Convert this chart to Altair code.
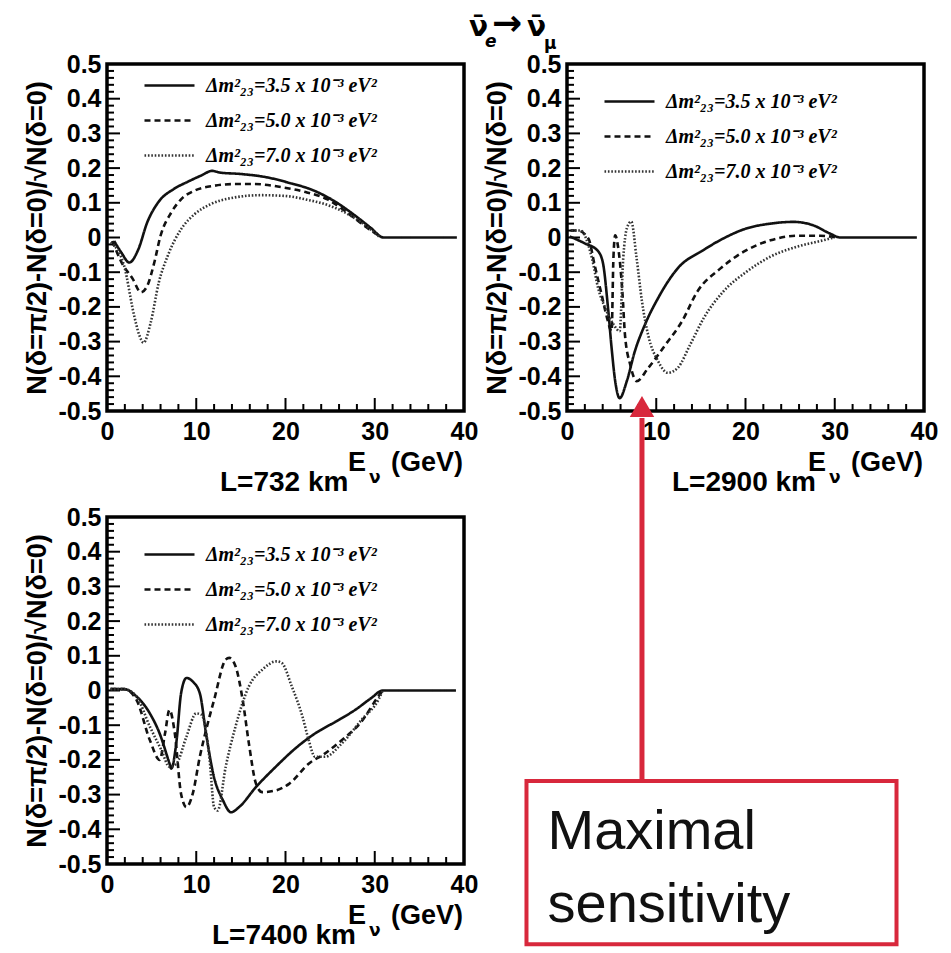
import altair as alt
import pandas as pd

# ---------------- data ----------------
LABELS = ["Δm²₂₃=3.5 x 10⁻³ eV²", "Δm²₂₃=5.0 x 10⁻³ eV²", "Δm²₂₃=7.0 x 10⁻³ eV²"]

# L = 732 km
P1_S_E = [0.8, 1.6, 2.5, 3.5, 4.5, 5.7, 7.5, 9.0, 10.5, 11.8, 12.7, 15.0, 18.0, 20.2, 23.2, 25.4, 27.6, 29.5, 31.0, 39.2]
P1_S_V = [-0.01, -0.043, -0.072, -0.035, 0.043, 0.10, 0.14, 0.16, 0.178, 0.192, 0.187, 0.183, 0.173, 0.159, 0.135, 0.106, 0.067, 0.029, 0.0, 0.0]
P1_D_E = [0.6, 1.6, 2.9, 3.8, 4.5, 5.3, 6.0, 7.2, 8.3, 9.8, 12.0, 14.2, 16.5, 19.8, 22.4, 24.7, 26.9, 29.1, 30.8]
P1_D_V = [-0.01, -0.07, -0.12, -0.158, -0.14, -0.072, 0.005, 0.072, 0.11, 0.135, 0.149, 0.154, 0.154, 0.144, 0.13, 0.11, 0.072, 0.029, 0.0]
P1_T_E = [0.4, 1.9, 3.05, 3.6, 4.1, 4.9, 5.8, 6.8, 8.3, 9.8, 11.6, 14.2, 17.2, 19.8, 22.4, 25.0, 27.3, 29.5, 30.6]
P1_T_V = [-0.014, -0.08, -0.226, -0.28, -0.303, -0.245, -0.13, -0.053, 0.024, 0.067, 0.096, 0.115, 0.122, 0.12, 0.109, 0.091, 0.063, 0.024, 0.0]

# L = 2900 km
P2_S_E = [0.3, 2.0, 3.4, 4.0, 4.6, 5.0, 5.4, 5.9, 6.7, 7.6, 8.7, 10.2, 12.4, 15.3, 17.5, 20.1, 22.8, 25.4, 27.6, 29.5, 30.6, 39.2]
P2_S_V = [0.003, -0.017, -0.037, -0.07, -0.204, -0.319, -0.414, -0.463, -0.414, -0.328, -0.253, -0.175, -0.089, -0.036, -0.003, 0.026, 0.040, 0.045, 0.035, 0.011, 0.0, 0.0]
P2_D_E = [0.4, 1.2, 2.4, 3.1, 3.9, 4.5, 5.0, 5.2, 5.4, 5.7, 6.2, 6.5, 7.1, 7.8, 9.1, 11.0, 12.9, 14.6, 17.2, 19.8, 22.8, 25.7, 28.4, 30.2]
P2_D_V = [0.02, 0.02, -0.003, -0.08, -0.167, -0.233, -0.27, -0.06, 0.006, -0.023, -0.155, -0.282, -0.368, -0.414, -0.376, -0.31, -0.241, -0.156, -0.089, -0.041, -0.008, 0.005, 0.005, 0.0]
P2_T_E = [0.5, 1.5, 2.8, 3.5, 4.3, 5.2, 5.9, 6.3, 6.7, 7.2, 7.8, 8.4, 9.1, 10.2, 11.3, 12.4, 13.8, 15.3, 17.5, 20.1, 22.8, 25.7, 28.4, 29.9]
P2_T_V = [0.02, 0.02, -0.06, -0.147, -0.204, -0.25, -0.27, -0.06, 0.026, 0.046, -0.06, -0.184, -0.282, -0.356, -0.39, -0.376, -0.309, -0.233, -0.156, -0.099, -0.055, -0.027, -0.01, 0.0]

# L = 7400 km
P3_S_E = [0.4, 1.9, 3.3, 4.8, 5.9, 7.0, 7.2, 7.8, 8.3, 8.9, 9.6, 10.4, 11.1, 11.9, 13.0, 13.9, 14.8, 16.7, 18.9, 21.1, 23.3, 25.6, 27.8, 29.6, 30.9, 39.1]
P3_S_V = [0.004, 0.004, -0.017, -0.066, -0.124, -0.21, -0.225, -0.143, -0.008, 0.036, 0.026, -0.008, -0.124, -0.24, -0.317, -0.351, -0.336, -0.278, -0.22, -0.167, -0.124, -0.09, -0.056, -0.022, 0.0, 0.0]
P3_D_E = [0.4, 1.9, 3.3, 4.8, 5.9, 6.5, 7.0, 7.6, 8.3, 8.9, 9.6, 10.4, 11.1, 12.0, 13.3, 13.7, 14.4, 15.2, 15.9, 16.7, 17.4, 18.9, 20.4, 22.6, 24.4, 26.3, 28.5, 30.4, 30.9]
P3_D_V = [0.004, 0.004, -0.027, -0.143, -0.2, -0.124, -0.056, -0.124, -0.298, -0.336, -0.298, -0.191, -0.114, -0.027, 0.089, 0.094, 0.07, -0.027, -0.153, -0.269, -0.293, -0.288, -0.269, -0.211, -0.182, -0.143, -0.09, -0.017, 0.0]
P3_T_E = [0.4, 1.9, 3.3, 4.8, 6.1, 7.0, 7.8, 8.9, 10.0, 10.6, 11.5, 12.0, 12.4, 13.3, 14.4, 15.9, 17.4, 19.0, 19.6, 20.7, 21.9, 22.6, 23.3, 24.4, 26.3, 28.5, 30.4, 30.9]
P3_T_V = [0.004, 0.004, -0.017, -0.104, -0.172, -0.22, -0.21, -0.133, -0.066, -0.07, -0.2, -0.336, -0.346, -0.22, -0.104, 0.012, 0.06, 0.084, 0.079, 0.012, -0.075, -0.143, -0.191, -0.191, -0.153, -0.085, -0.027, 0.0]

BASELINES = ["L=732 km", "L=2900 km", "L=7400 km"]
X_LABEL_VALUES = [0, 10, 20, 30, 40]
Y_LABEL_VALUES = [0.5, 0.4, 0.3, 0.2, 0.1, 0.0, -0.1, -0.2, -0.3, -0.4, -0.5]

# ---------------- style ----------------
SANS = "Liberation Sans"
SERIF = "Liberation Serif"
W, H = 357, 347
RED = "#d8283c"
DASHES = [[1, 0], [6, 4], [1.6, 1.8]]
COLORS = ["#111111", "#111111", "#333333"]
YTITLE = "N(δ=π/2)-N(δ=0)/√N(δ=0)"
X_MAJOR = [0, 10, 20, 30, 40]
X_MINOR = [v for v in range(2, 40, 2) if v % 10 != 0]
Y_MAJOR = Y_LABEL_VALUES
Y_MINOR = [round(-0.5 + 0.02 * i, 2) for i in range(51) if i % 5 != 0]

xs = alt.Scale(domain=[0, 40], nice=False, zero=False)
ys = alt.Scale(domain=[-0.5, 0.5], nice=False, zero=False)


def make_df(pairs):
    rows = []
    for lab, (es, vs) in zip(LABELS, pairs):
        for e, v in zip(es, vs):
            rows.append({"E": e, "V": v, "series": lab})
    return pd.DataFrame(rows)


def txt(text, e, v, dx, dy, size, font=SANS, weight="bold", style="normal",
        align="left", color="black", baseline="alphabetic", line_height=None):
    props = dict(dx=dx, dy=dy, fontSize=size, font=font, fontWeight=weight,
                 fontStyle=style, align=align, color=color, baseline=baseline,
                 text=text)
    if line_height is not None:
        props["lineHeight"] = line_height
    return alt.Chart(pd.DataFrame({"E": [e], "V": [v]})).mark_text(**props).encode(
        x=alt.X("E:Q", scale=xs, axis=None),
        y=alt.Y("V:Q", scale=ys, axis=None),
    )


def xticks(vals, size):
    return alt.Chart(pd.DataFrame({"t": vals})).mark_rule(color="black", strokeWidth=2).encode(
        x=alt.X("t:Q", scale=xs, axis=None), y=alt.value(H), y2=alt.value(H - size))


def yticks(vals, size):
    return alt.Chart(pd.DataFrame({"t": vals})).mark_rule(color="black", strokeWidth=2).encode(
        y=alt.Y("t:Q", scale=ys, axis=None), x=alt.value(0), x2=alt.value(size))


def panel(df, lx, ly, ltext, ldx, extra=None):
    legend = alt.Legend(
        orient="none", legendX=lx, legendY=ly, title=None,
        symbolType="M-2.5,0L2.5,0", symbolSize=400, symbolStrokeWidth=2.6,
        labelFont=SERIF, labelFontSize=20, labelFontStyle="italic",
        labelFontWeight="bold", labelColor="black", labelOffset=25,
        labelLimit=0, rowPadding=13, padding=0,
    )
    lines = alt.Chart(df).mark_line(strokeWidth=2.6, clip=False, interpolate="monotone").encode(
        x=alt.X("E:Q", scale=xs, axis=alt.Axis(
            values=X_LABEL_VALUES, ticks=False, domain=False, grid=False,
            labelFont=SANS, labelFontSize=25, labelFontWeight="bold",
            labelColor="black", labelPadding=8, labelFlush=False, title=None)),
        y=alt.Y("V:Q", scale=ys, axis=alt.Axis(
            values=Y_LABEL_VALUES, ticks=False, domain=False, grid=False,
            labelFont=SANS, labelFontSize=25, labelFontWeight="bold",
            labelColor="black", labelPadding=6,
            labelExpr="datum.value == 0 ? '0' : (datum.value < 0 ? '-' + format(-datum.value, '.1f') : format(datum.value, '.1f'))",
            title=YTITLE, titleFont=SANS, titleFontSize=27, titleFontWeight="bold",
            titleColor="black", titlePadding=6)),
        strokeDash=alt.StrokeDash("series:N", scale=alt.Scale(domain=LABELS, range=DASHES), legend=legend),
        color=alt.Color("series:N", scale=alt.Scale(domain=LABELS, range=COLORS), legend=legend),
    )
    layers = [xticks(X_MAJOR, 13), xticks(X_MINOR, 7),
              yticks(Y_MAJOR, 13), yticks(Y_MINOR, 7),
              lines,
              txt("(GeV)", 40, -0.5, -1, 60, 27, align="right"),
              txt("E", 0, -0.5, 241, 60, 27),
              txt("ν", 0, -0.5, 262, 72, 17, font="DejaVu Sans"),
              txt(ltext, 0, -0.5, ldx, 80, 28)]
    if extra:
        layers += extra
    return alt.layer(*layers).resolve_axis(x="independent", y="independent").properties(width=W, height=H)


df1 = make_df([(P1_S_E, P1_S_V), (P1_D_E, P1_D_V), (P1_T_E, P1_T_V)])
df2 = make_df([(P2_S_E, P2_S_V), (P2_D_E, P2_D_V), (P2_T_E, P2_T_V)])
df3 = make_df([(P3_S_E, P3_S_V), (P3_D_E, P3_D_V), (P3_T_E, P3_T_V)])

# annotation (panel-2 coordinates)
arrow_df = pd.DataFrame({"E": [8.4, 8.4], "V": [-1.566, -0.52]})
arrow_shaft = alt.Chart(arrow_df).mark_line(color=RED, strokeWidth=5, clip=False).encode(
    x=alt.X("E:Q", scale=xs, axis=None), y=alt.Y("V:Q", scale=ys, axis=None))
head_df = pd.DataFrame({"E": [8.4], "V": [-0.487]})
arrow_head = alt.Chart(head_df).mark_point(shape="triangle-up", size=600, filled=True,
                                           color=RED, opacity=1).encode(
    x=alt.X("E:Q", scale=xs, axis=None), y=alt.Y("V:Q", scale=ys, axis=None))
box_df = pd.DataFrame({"E": [-4.54], "E2": [36.92], "V": [-1.566], "V2": [-2.037]})
box = alt.Chart(box_df).mark_rect(fill="white", stroke=RED, strokeWidth=4).encode(
    x=alt.X("E:Q", scale=xs, axis=None), x2="E2:Q",
    y=alt.Y("V:Q", scale=ys, axis=None), y2="V2:Q")
box_text = txt(["Maximal", "sensitivity"], -4.54, -1.566, 21, 68, 56, weight="normal",
               color="#111111", line_height=73)

title_marks = [
    txt("ν̄", 0, 0.5, -98, -28, 28, font="DejaVu Sans"),
    txt("e", 0, 0.5, -82, -17, 17, font="DejaVu Sans", style="italic"),
    txt("→", 0, 0.5, -75, -29, 36, font="DejaVu Sans"),
    txt("ν̄", 0, 0.5, -40, -28, 28, font="DejaVu Sans"),
    txt("μ", 0, 0.5, -23, -15, 17, font="DejaVu Sans"),
]

p1 = panel(df1, 51, 10, BASELINES[0], 113)
p2 = panel(df2, 51, 26, BASELINES[1], 105,
           extra=title_marks + [arrow_shaft, arrow_head, box, box_text])
p3 = panel(df3, 51, 26, BASELINES[2], 105)

chart = alt.concat(
    p1, p2, p3, columns=2, spacing={"row": 106, "column": 103}, bounds="flush"
).resolve_scale(
    strokeDash="independent", color="independent"
).properties(
    padding={"left": 22, "top": 4, "right": 5, "bottom": 5},
    background="white",
).configure_view(stroke="black", strokeWidth=3.5)

chart.save("out.html", embed_options={"renderer": "svg", "actions": False})
